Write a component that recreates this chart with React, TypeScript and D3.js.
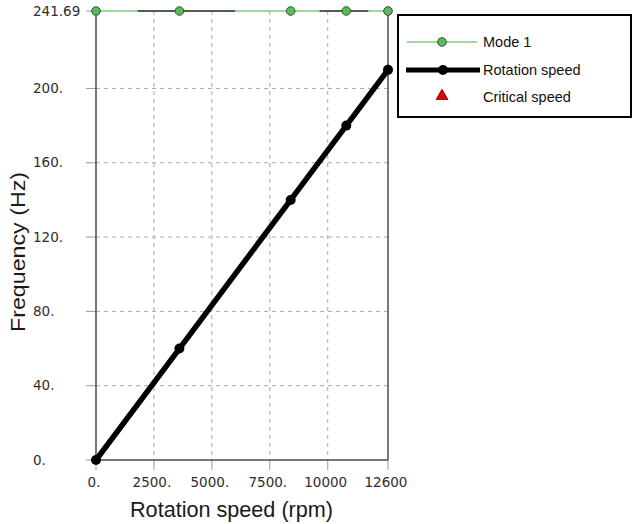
import React from "react";
import * as d3 from "d3";

const speedsRpm = [0, 3600, 8400, 10800, 12600];
const mode1Hz = [241.69, 241.69, 241.69, 241.69, 241.69];
const rotationHz = [0, 60, 140, 180, 210];
const xTicks = [0, 2500, 5000, 7500, 10000, 12600];
const xTickLabels = ["0.", "2500.", "5000.", "7500.", "10000", "12600"];
const yTicks = [0, 40, 80, 120, 160, 200, 241.69];
const yTickLabels = ["0.", "40.", "80.", "120.", "160.", "200.", "241.69"];
const frameTopSegments = [[1800, 6000], [9650, 11750]];
const legendLabels = ["Mode 1", "Rotation speed", "Critical speed"];

export default function App() {
  const W = 635, H = 524;
  const left = 96, right = 388, top = 11, bottom = 460;
  const x = d3.scaleLinear().domain([0, 12600]).range([left, right]);
  const y = d3.scaleLinear().domain([0, 241.69]).range([bottom, top]);
  const line = d3.line<[number, number]>().x(d => x(d[0])).y(d => y(d[1]));
  const modePts = speedsRpm.map((s, i) => [s, mode1Hz[i]] as [number, number]);
  const rotPts = speedsRpm.map((s, i) => [s, rotationHz[i]] as [number, number]);
  const frameColor = "#4a4a4a";
  const tickFont = "'DejaVu Sans', 'Noto Sans', sans-serif";
  const titleFont = "'Liberation Sans', Arial, sans-serif";
  const lx = 398, ly = 15, lw = 233, lh = 102;
  const green = "#7fcc7f";
  return (
    <svg width={W} height={H} style={{ position: "absolute", left: 0, top: 0, background: "#fff" }}>
      {xTicks.slice(1, -1).map(t => (
        <line key={"gx" + t} x1={x(t)} x2={x(t)} y1={top} y2={bottom} stroke="#a8a8a8" strokeDasharray="4,4" strokeWidth={1} />
      ))}
      {yTicks.slice(1, -1).map(t => (
        <line key={"gy" + t} x1={left} x2={right} y1={y(t)} y2={y(t)} stroke="#a8a8a8" strokeDasharray="4,4" strokeWidth={1} />
      ))}
      {yTicks.map(t => (
        <line key={"ty" + t} x1={left - 10} x2={left} y1={y(t)} y2={y(t)} stroke="#999" strokeWidth={1} />
      ))}
      {xTicks.map(t => (
        <line key={"tx" + t} x1={x(t)} x2={x(t)} y1={bottom} y2={bottom + 10} stroke="#999" strokeWidth={1} />
      ))}
      <line x1={left} x2={left} y1={top} y2={bottom} stroke={frameColor} strokeWidth={1.5} />
      <line x1={right} x2={right} y1={top} y2={bottom} stroke={frameColor} strokeWidth={1.5} />
      <line x1={left} x2={right} y1={bottom} y2={bottom} stroke={frameColor} strokeWidth={1.5} />
      <path d={line(modePts) || ""} fill="none" stroke={green} strokeWidth={1.3} />
      {frameTopSegments.map((s, i) => (
        <line key={"fs" + i} x1={x(s[0])} x2={x(s[1])} y1={y(241.69)} y2={y(241.69)} stroke="#333" strokeWidth={1.5} />
      ))}
      <path d={line(rotPts) || ""} fill="none" stroke="#000" strokeWidth={5.5} />
      {rotPts.map((p, i) => (
        <circle key={"rp" + i} cx={x(p[0])} cy={y(p[1])} r={5} fill="#000" />
      ))}
      {modePts.map((p, i) => (
        <circle key={"mp" + i} cx={x(p[0])} cy={y(p[1])} r={4.3} fill="#5cb85c" stroke="#2d5a2d" strokeWidth={1} />
      ))}
      {yTicks.map((t, i) => (
        <text key={"yl" + t} x={33} y={y(t)} dy="0.35em" fontSize={13.5} fill="#2e2e2e" fontFamily={tickFont}>{yTickLabels[i]}</text>
      ))}
      {xTicks.map((t, i) => (
        <text key={"xl" + t} x={x(t) - 2} y={487} textAnchor="middle" fontSize={13.5} fill="#2e2e2e" fontFamily={tickFont}>{xTickLabels[i]}</text>
      ))}
      <text x={130} y={517} textLength={203} lengthAdjust="spacingAndGlyphs" fontSize={22} fill="#1a1a1a" fontFamily={titleFont}>Rotation speed (rpm)</text>
      <text transform={`translate(25,332) rotate(-90)`} textLength={160} lengthAdjust="spacingAndGlyphs" fontSize={21} fill="#1a1a1a" fontFamily={titleFont}>Frequency (Hz)</text>
      <rect x={lx} y={ly} width={lw} height={lh} fill="#fff" stroke="#000" strokeWidth={2} />
      <line x1={407} x2={477} y1={42} y2={42} stroke={green} strokeWidth={1.3} />
      <circle cx={442} cy={42} r={4.3} fill="#5cb85c" stroke="#2d5a2d" strokeWidth={1} />
      <line x1={406} x2={480} y1={70} y2={70} stroke="#000" strokeWidth={5} />
      <circle cx={443} cy={70} r={5} fill="#000" />
      <path d={d3.symbol(d3.symbolTriangle, 60)() || ""} transform="translate(442,96)" fill="#e00000" stroke="#600" strokeWidth={0.8} />
      {legendLabels.map((l, i) => (
        <text key={l} x={483} y={42 + i * 27.5} dy="0.35em" fontSize={14.5} fill="#111" fontFamily={titleFont}>{l}</text>
      ))}
    </svg>
  );
}
